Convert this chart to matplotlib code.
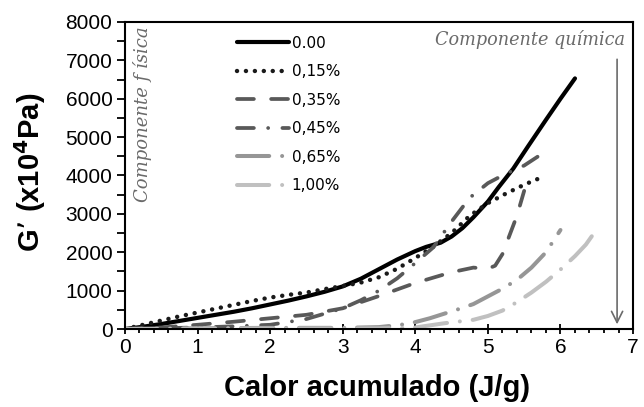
import numpy as np
import matplotlib
matplotlib.use("Agg")
import matplotlib.pyplot as plt
from matplotlib.ticker import MultipleLocator

# ---------------------------------------------------------------
# data (G' in x10^4 Pa vs accumulated heat)
# ---------------------------------------------------------------
x_000 = [0, 0.25, 0.5, 0.75, 1.0, 1.25, 1.5, 1.75, 2.0, 2.25, 2.5, 2.75, 3.0,
         3.25, 3.5, 3.75, 4.0, 4.15, 4.35, 4.5, 4.65, 4.8, 5.0, 5.15, 5.35,
         5.55, 5.8, 6.0, 6.2]
y_000 = [0, 60, 130, 210, 290, 370, 450, 540, 640, 740, 850, 970, 1110,
         1310, 1560, 1810, 2030, 2140, 2250, 2410, 2630, 2910, 3320, 3700, 4180,
         4750, 5450, 6000, 6530]

x_015 = [0, 0.25, 0.5, 0.75, 1.0, 1.25, 1.5, 1.75, 2.0, 2.25, 2.5, 2.75, 3.0,
         3.25, 3.5, 3.75, 4.0, 4.25, 4.5, 4.75, 5.0, 5.25, 5.5, 5.7]
y_015 = [0, 110, 220, 330, 430, 530, 630, 730, 820, 890, 950, 1040, 1120,
         1210, 1350, 1570, 1850, 2150, 2500, 2950, 3280, 3530, 3760, 3920]

x_035 = [0, 0.5, 1.0, 1.5, 2.0, 2.5, 3.0, 3.5, 4.0, 4.5, 4.8, 5.0, 5.1, 5.2,
         5.3, 5.4, 5.5]
y_035 = [0, 40, 110, 190, 280, 370, 540, 860, 1200, 1480, 1600, 1570, 1650,
         1950, 2450, 2950, 3600]

x_045 = [0, 0.5, 1.0, 1.5, 2.0, 2.5, 3.0, 3.25, 3.5, 3.75, 4.0, 4.25, 4.5,
         4.75, 5.0, 5.25, 5.5, 5.75]
y_045 = [0, 20, 40, 70, 110, 260, 540, 750, 1000, 1320, 1720, 2130, 2800,
         3420, 3800, 4050, 4260, 4570]

x_065 = [0, 1, 2, 3, 3.5, 3.8, 4.0, 4.2, 4.4, 4.6, 4.8, 5.0, 5.2, 5.4, 5.6,
         5.8, 6.0]
y_065 = [0, 20, 30, 30, 50, 110, 180, 280, 400, 520, 650, 850, 1050, 1280,
         1600, 2000, 2580]

x_100 = [0, 1, 2, 3, 3.5, 4.0, 4.4, 4.8, 5.0, 5.2, 5.4, 5.6, 5.8, 6.0, 6.2,
         6.35, 6.5]
y_100 = [0, 10, 15, 15, 15, 40, 150, 240, 340, 480, 700, 950, 1230, 1550,
         1900, 2200, 2600]

labels = ["0.00", "0,15%", "0,35%", "0,45%", "0,65%", "1,00%"]

# ---------------------------------------------------------------
# figure
# ---------------------------------------------------------------
fig = plt.figure(figsize=(6.44, 4.07), dpi=100)
ax = fig.add_axes([0.194, 0.1916, 0.789, 0.7544])

series = [
    (x_000, y_000, dict(color="black", lw=3.0, ls="-", solid_capstyle="round")),
    (x_015, y_015, dict(color="#1a1a1a", lw=3.2, ls=(0, (0.01, 2.0)),
                        dash_capstyle="round")),
    (x_035, y_035, dict(color="#595959", lw=2.7, ls=(0, (4.5, 4.6)),
                        dash_capstyle="round")),
    (x_045, y_045, dict(color="#595959", lw=2.7, ls=(0, (4.5, 3.8, 0.01, 3.8)),
                        dash_capstyle="round")),
    (x_065, y_065, dict(color="#969696", lw=2.9, ls=(0, (8.0, 3.2, 0.01, 3.2)),
                        dash_capstyle="round")),
    (x_100, y_100, dict(color="#c0c0c0", lw=2.9, ls=(0, (8.0, 3.2, 0.01, 3.2)),
                        dash_capstyle="round")),
]

for (xs, ys, style), lab in zip(series, labels):
    ax.plot(xs, ys, label=lab, **style)

ax.set_xlim(0, 7)
ax.set_ylim(0, 8000)
ax.xaxis.set_major_locator(MultipleLocator(1))
ax.xaxis.set_minor_locator(MultipleLocator(0.2))
ax.yaxis.set_major_locator(MultipleLocator(1000))
ax.yaxis.set_minor_locator(MultipleLocator(500))

ax.tick_params(axis="x", which="major", direction="inout", length=7, width=1.3,
               labelsize=15, pad=3)
ax.tick_params(axis="x", which="minor", direction="out", length=3, width=1.3)
ax.tick_params(axis="y", which="major", direction="out", length=6, width=1.3,
               labelsize=15, pad=3)
ax.tick_params(axis="y", which="minor", direction="out", length=6, width=1.3)
for lab in ax.get_xticklabels() + ax.get_yticklabels():
    lab.set_fontfamily("Liberation Sans")

for sp in ax.spines.values():
    sp.set_linewidth(1.5)

ax.set_xlabel("Calor acumulado (J/g)", fontsize=21, fontweight="bold",
              family="Liberation Sans")
ax.set_ylabel("G\u2019 (x10$^{\\mathbf{4}}$Pa)", fontsize=21, fontweight="bold",
              family="Liberation Sans")
ax.xaxis.set_label_coords(0.497, -0.145)
ax.yaxis.set_label_coords(-0.187, 0.51)
ax.yaxis.label.set_va("center")

leg = ax.legend(loc="upper left", bbox_to_anchor=(0.22, 0.955), frameon=False,
                borderpad=0, borderaxespad=0, handlelength=3.45,
                handletextpad=0.14, labelspacing=0.88,
                prop={"family": "DejaVu Sans", "size": 11})

# annotations
ax.text(0.016, 0.985, "Componente f ísica", transform=ax.transAxes,
        rotation=90, ha="left", va="top", fontsize=13, style="italic",
        family="DejaVu Serif", color="#6a6a6a")
ax.text(0.985, 0.975, "Componente química", transform=ax.transAxes,
        ha="right", va="top", fontsize=12.7, style="italic",
        family="DejaVu Serif", color="#6a6a6a")
ax.annotate("", xy=(6.78, 50), xytext=(6.78, 7100),
            arrowprops=dict(arrowstyle="->", color="#6a6a6a", lw=1.2,
                            mutation_scale=20))

plt.savefig("out.png", dpi=100)
